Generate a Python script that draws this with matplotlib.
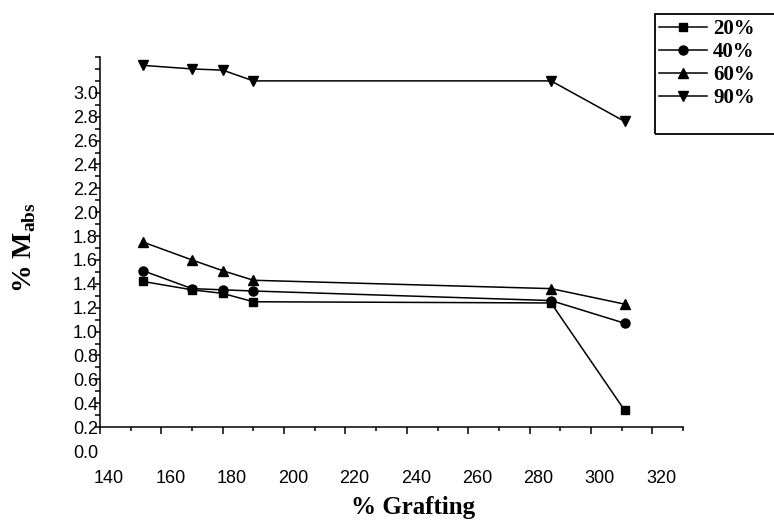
import numpy as np
import matplotlib
matplotlib.use("Agg")
import matplotlib.pyplot as plt
from matplotlib.patches import Rectangle
from matplotlib.transforms import ScaledTranslation

# data
grafting = [154, 170, 180, 190, 287, 311]
m20 = [1.42, 1.35, 1.32, 1.25, 1.24, 0.34]
m40 = [1.51, 1.36, 1.35, 1.34, 1.26, 1.07]
m60 = [1.75, 1.60, 1.51, 1.43, 1.36, 1.23]
m90 = [3.23, 3.20, 3.19, 3.10, 3.10, 2.76]
series_labels = ["20%", "40%", "60%", "90%"]
x_ticks = [140, 160, 180, 200, 220, 240, 260, 280, 300, 320]
y_ticks = [0.0, 0.2, 0.4, 0.6, 0.8, 1.0, 1.2, 1.4, 1.6, 1.8, 2.0,
           2.2, 2.4, 2.6, 2.8, 3.0]

plt.rcParams["mathtext.fontset"] = "custom"
plt.rcParams["mathtext.rm"] = "Liberation Serif:bold"
plt.rcParams["mathtext.bf"] = "Liberation Serif:bold"

W, H = 774, 522
fig = plt.figure(figsize=(W / 100, H / 100), dpi=100)
ax = fig.add_axes([100 / W, 71 / H, 583 / W, 394 / H])

markers = ["s", "o", "^", "v"]
sizes = [6, 6.5, 7.5, 7.5]
for vals, lab, mk, ms in zip([m20, m40, m60, m90], series_labels, markers, sizes):
    ax.plot(grafting, vals, color="black", lw=1.1, marker=mk, ms=ms,
            markerfacecolor="black", markeredgecolor="black", label=lab)

ax.set_xlim(140, 330)
ax.set_ylim(0, 3.3)
ax.spines["top"].set_visible(False)
ax.spines["right"].set_visible(False)
ax.spines["bottom"].set_position(("data", 0.2))
ax.spines["left"].set_bounds(0.2, 3.3)
for s in ["bottom", "left"]:
    ax.spines[s].set_linewidth(1.1)

tick_font = {"family": "Liberation Sans", "size": 13}

ax.set_xticks(x_ticks)
ax.set_xticks(np.arange(150, 331, 20), minor=True)
ax.set_xticklabels([str(v) for v in x_ticks], fontdict=tick_font)
ax.tick_params(axis="x", which="major", direction="out", length=5, width=1.1, pad=26)
ax.tick_params(axis="x", which="minor", direction="out", length=3, width=1.1)

ax.set_yticks(y_ticks)
ax.set_yticks(np.arange(0.3, 3.35, 0.1), minor=True)
ax.set_yticklabels([f"{v:.1f}" for v in y_ticks], fontdict=tick_font)
ax.tick_params(axis="y", which="both", direction="out", length=3.5, width=1.1, pad=-2)
ax.yaxis.get_major_ticks()[0].tick1line.set_visible(False)

# x tick labels sit a bit right of their ticks in the reference
shift = ScaledTranslation(9 / 100, 0, fig.dpi_scale_trans)
for t in ax.xaxis.get_major_ticks():
    t.label1.set_transform(t.label1.get_transform() + shift)

ax.set_xlabel("% Grafting", family="Liberation Serif", weight="bold", fontsize=18)
ax.xaxis.set_label_coords(0.537, -0.115)
fig.text(25 / W, 1 - 248 / H, r"% M$_{\mathrm{abs}}$", rotation=90,
         ha="center", va="center", family="Liberation Serif",
         weight="bold", fontsize=20)

# legend with a box running off the right edge
fig.add_artist(Rectangle((655 / W, 1 - 134 / H), 0.2, 120 / H,
                         transform=fig.transFigure, fill=False,
                         edgecolor="black", lw=1.3))
ax.legend(loc="upper left", bbox_to_anchor=(659 / W, 1 - 19 / H),
          bbox_transform=fig.transFigure, frameon=False,
          prop={"family": "Liberation Serif", "weight": "bold", "size": 15},
          handlelength=2.3, handletextpad=0.3, labelspacing=0.15,
          borderpad=0, borderaxespad=0)

fig.savefig("out.png", dpi=100)
